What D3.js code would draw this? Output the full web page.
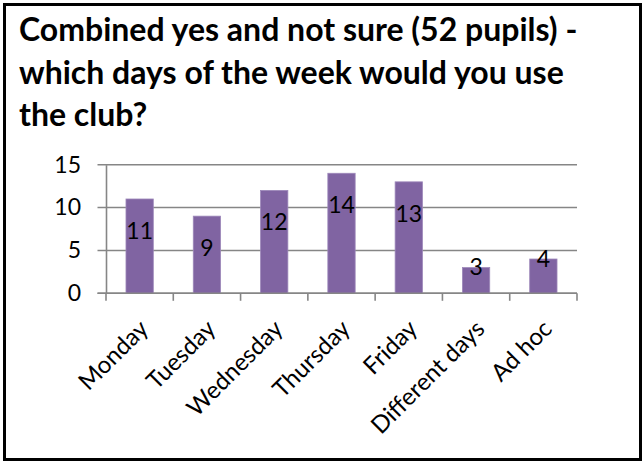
<!DOCTYPE html>
<html>
<head>
<meta charset="utf-8">
<script src="https://cdn.jsdelivr.net/npm/d3@7"></script>
<style>
  html, body { margin: 0; padding: 0; background: #fff; }
  svg { display: block; }
</style>
</head>
<body>
<svg id="chart" width="644" height="461"></svg>
<script>
const titleLines = [
  "Combined yes and not sure (52 pupils) -",
  "which days of the week would you use",
  "the club?"
];
const categories = ["Monday", "Tuesday", "Wednesday", "Thursday", "Friday", "Different days", "Ad hoc"];
const values = [11, 9, 12, 14, 13, 3, 4];
const yTicks = [0, 5, 10, 15];

const svg = d3.select("#chart");
const W = 644, H = 461;
const font = "Lato, 'Open Sans', sans-serif";

svg.append("rect").attr("x", 0).attr("y", 0).attr("width", W).attr("height", H).attr("fill", "#fff");
svg.append("rect")
  .attr("x", 4.5).attr("y", 4.5).attr("width", 636).attr("height", 455)
  .attr("fill", "none").attr("stroke", "#000").attr("stroke-width", 3);

// Title
const title = svg.append("text")
  .attr("font-family", font).attr("font-weight", "bold").attr("font-size", 32)
  .attr("fill", "#000");
titleLines.forEach((t, i) => {
  title.append("tspan").attr("x", 19).attr("y", 41 + i * 42.5).text(t);
});

const plot = { left: 106, right: 577, top: 164.7, bottom: 293.3 };

const x = d3.scaleBand().domain(categories).range([plot.left, plot.right]).paddingInner(0).paddingOuter(0);
const y = d3.scaleLinear().domain([0, 15]).range([plot.bottom, plot.top]);

const gridColor = "#868686";

// gridlines
svg.append("g").selectAll("line").data(yTicks).join("line")
  .attr("x1", plot.left - 8.5).attr("x2", plot.right)
  .attr("y1", d => y(d)).attr("y2", d => y(d))
  .attr("stroke", gridColor).attr("stroke-width", 1.6);

// y axis
const yAxis = d3.axisLeft(y).tickValues(yTicks).tickSize(0).tickPadding(25);
const gy = svg.append("g").attr("transform", `translate(${plot.left},0)`).call(yAxis);
gy.select(".domain").attr("stroke", gridColor).attr("stroke-width", 1.6);
gy.selectAll("text").attr("font-family", font).attr("font-size", 23).attr("fill", "#000");

// bars
const barW = x.bandwidth() * 0.406;
svg.append("g").selectAll("rect").data(values).join("rect")
  .attr("x", (d, i) => x(categories[i]) + (x.bandwidth() - barW) / 2)
  .attr("width", barW)
  .attr("y", d => y(d))
  .attr("height", d => y(0) - y(d))
  .attr("fill", "#8064A2")
  .attr("stroke", "#9d88ba").attr("stroke-width", 0.8);

// x axis
const xAxis = d3.axisBottom(x).tickSize(0).tickFormat("");
const gx = svg.append("g").attr("transform", `translate(0,${plot.bottom})`).call(xAxis);
gx.select(".domain").remove();
gx.append("line").attr("x1", plot.left - 8.5).attr("x2", plot.right).attr("y1", 0).attr("y2", 0)
  .attr("stroke", gridColor).attr("stroke-width", 1.6);
const boundaries = categories.map(c => x(c)).concat([x(categories[categories.length - 1]) + x.bandwidth()]);
gx.selectAll(".bnd").data(boundaries).join("line").attr("class", "bnd")
  .attr("x1", d => d).attr("x2", d => d).attr("y1", 0).attr("y2", 7.5)
  .attr("stroke", gridColor).attr("stroke-width", 1.6);

// x labels rotated
svg.append("g").selectAll("text").data(categories).join("text")
  .attr("font-family", font).attr("font-size", 24).attr("fill", "#000")
  .attr("text-anchor", "end")
  .attr("transform", d => `translate(${x(d) + x.bandwidth() / 2 + 10},${plot.bottom + 37}) rotate(-45)`)
  .text(d => d);

// data labels
svg.append("g").selectAll("text").data(values).join("text")
  .attr("font-family", font).attr("font-size", 23).attr("fill", "#000")
  .attr("text-anchor", "middle").attr("dominant-baseline", "central")
  .attr("x", (d, i) => x(categories[i]) + x.bandwidth() / 2)
  .attr("y", d => (y(0) - y(d) > 60) ? y(d) + 31 : y(d) - 1.5)
  .text(d => d);
</script>
</body>
</html>
